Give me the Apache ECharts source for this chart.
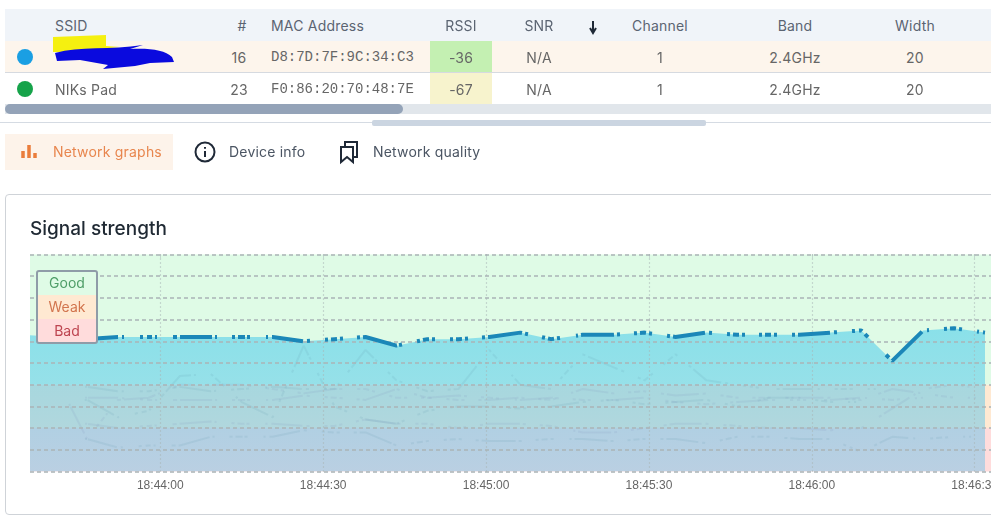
<!DOCTYPE html>
<html><head><meta charset="utf-8">
<script src="https://cdn.jsdelivr.net/npm/echarts@6/dist/echarts.min.js"></script>
<style>
html,body{margin:0;padding:0;background:#fff;width:991px;height:526px;overflow:hidden;font-family:Inter,"Noto Sans",sans-serif;color:#4b5563}
.a{position:absolute;white-space:nowrap}
.t{position:absolute;white-space:nowrap;transform:translate(-50%,-50%);font-size:14px;letter-spacing:.2px}
.l{position:absolute;white-space:nowrap;transform:translateY(-50%);font-size:14px;letter-spacing:.2px}
#chart{position:absolute;left:0;top:0;width:991px;height:526px}
</style></head><body>
<div class="a" style="left:5px;top:194px;width:1000px;height:319px;border:1px solid #cfd3d8;border-radius:4px"></div>
<div id="chart"></div>
<div id="chrome"></div>
<script>
const sampleTimes=['18:43:35.1','18:43:40.8','18:43:46.5','18:43:52.2','18:43:57.9','18:44:03.6','18:44:09.3','18:44:15.0','18:44:20.7','18:44:26.4','18:44:32.1','18:44:37.8','18:44:43.5','18:44:49.2','18:44:54.9','18:45:00.6','18:45:06.3','18:45:12.0','18:45:17.8','18:45:23.5','18:45:29.2','18:45:34.9','18:45:40.6','18:45:46.3','18:45:52.0','18:45:57.7','18:46:03.4','18:46:09.1','18:46:14.8','18:46:20.5','18:46:26.2','18:46:31.9'];
const signalValues=[-37,-38,-39,-38,-38,-38,-38,-38,-38,-40,-39,-38,-42,-39,-39,-38,-36,-39,-37,-37,-36,-38,-36,-37,-37,-37,-36,-35,-49,-35,-34,-36];
const ghostA=[-62,-61,-61,-63,-63,-61,-63,-62,-61,-62,-62,-44,-58,-63,-62,-44,-60,-62,-46,-52,-58,-46,-58,-60,-62,-62,-62,-62,-62,-63,-62,-62];
const ghostB=[-66,-66,-66,-66,-67,-67,-67,-67,-67,-65,-66,-67,-62,-66,-67,-67,-66,-67,-62,-64,-63,-65,-64,-66,-66,-66,-66,-67,-62,-64,-66,-66];
const ghostC=[-70,-68,-67,-75,-72,-56,-55,-68,-75,-42,-70,-76,-78,-72,-70,-70,-71,-70,-68,-67,-69,-68,-67,-70,-66,-66,-68,-68,-72,-60,-68,-70];
const ghostD=[-78,-78,-78,-80,-79,-78,-77,-78,-78,-79,-79,-76,-78,-78,-80,-78,-78,-79,-82,-82,-80,-78,-78,-79,-80,-80,-81,-80,-71,-62,-60,-62];
const ghostE=[-85,-86,-85,-89,-88,-88,-84,-84,-84,-81,-82,-82,-88,-86,-85,-86,-86,-85,-85,-86,-85,-85,-87,-84,-84,-85,-85,-91,-84,-85,-84,-84];
const ghostLift=[-58,-57,-85,-67,-66,-60,-60,-60,-62,-64,-62,-62,-66,-66,-65,-66,-67,-66,-67,-67,-66,-68,-69,-68,-67,-67,-67,-66,-67,-66,-65,-65];
const tickTimes=['18:44:00','18:44:30','18:45:00','18:45:30','18:46:00','18:46:30'];
const zoneNames=['Good','Weak','Bad'];
const zoneLimits=[0,-60,-80,-100];
const tableHeaders=['SSID','#','MAC Address','RSSI','SNR','Channel','Band','Width'];
const tableRows=[['','16','D8:7D:7F:9C:34:C3','-36','N/A','1','2.4GHz','20'],['NIKs Pad','23','F0:86:20:70:48:7E','-67','N/A','1','2.4GHz','20']];
const tabNames=['Network graphs','Device info','Network quality'];

const dashSpans=[[85,87],[88,118],[122,124],[140,143],[147,152],[155,157],[173,177],[180,212],[215,217],[232,235],[238,245],[247,250],[266,268],[272,303],[307,310],[325,328],[331,337],[340,343],[357,360],[363,397],[399,402],[417,420],[423,429],[432,435],[450,453],[456,462],[465,468],[482,485],[488,522],[525,528],[542,545],[548,554],[557,560],[576,578],[581,614],[617,620],[634,637],[640,646],[649,652],[667,670],[673,705],[709,712],[727,730],[733,739],[742,745],[759,762],[765,771],[774,777],[792,795],[798,830],[834,837],[852,855],[859,862],[865,868],[886,889],[892,922],[927,929],[944,947],[950,956],[959,962],[977,979],[983,985]];

const c=document.getElementById('chrome');
function box(x,y,w,h,bg,extra){const d=document.createElement('div');d.className='a';d.style.cssText+=`left:${x}px;top:${y}px;width:${w}px;height:${h}px;background:${bg};${extra||''}`;c.appendChild(d);return d}
function txt(cls,x,y,s,extra){const d=document.createElement('div');d.className=cls;d.textContent=s;d.style.cssText+=`left:${x}px;top:${y}px;${extra||''}`;c.appendChild(d)}
box(5,9,986,32,'#f0f4f9');box(5,41,986,31,'#fdf5ec');box(5,72,986,1,'#d6dae0');
box(430,41,62,31,'#c4f0b2');box(430,73,62,31,'#f7f3cd');
box(5,104,986,10,'#e1e6eb');box(5,104,398,10,'#94a3b8','border-radius:5px');
box(0,122,991,1,'#d5dbe3');box(372,120,334,6,'#cbd5e1','border-radius:2px');
box(5,134,168,36,'#fdf3ea');
const hx=[[55,'l'],[242,'t'],[271,'l'],[461,'t'],[539,'t'],[660,'t'],[795,'t'],[915,'t']];
tableHeaders.forEach((h,i)=>txt(hx[i][1],hx[i][0],25,h,'color:#5b6472'));
const cx=[[55,'l'],[239,'t'],[271,'l'],[461,'t'],[539,'t'],[660,'t'],[795,'t'],[915,'t']];
tableRows.forEach((r,ri)=>r.forEach((v,i)=>{if(v)txt(cx[i][1],cx[i][0],57+ri*32,v,i==2?'font-family:"Liberation Mono",monospace;letter-spacing:0;color:#666':'color:#666')}));
txt('l',53,151,tabNames[0],'color:#e8864e');
txt('l',229,151,tabNames[1],'color:#4b5563');
txt('l',373,151,tabNames[2],'color:#4b5563');
const svg=document.createElementNS('http://www.w3.org/2000/svg','svg');
svg.setAttribute('width',991);svg.setAttribute('height',200);svg.style.cssText='position:absolute;left:0;top:0';
svg.innerHTML=`
<path d="M53 37 L106 35 L106 46 L120 47 L70 52 L53 52Z" fill="#f5f010"/>
<path d="M55 53 C80 46 110 50 143 45 L130 49 C150 48 165 50 172 57 L174 62 L150 63 L135 66 L103 69 L108 65 L80 60 L57 61Z" fill="#0a0ade"/>
<circle cx="25" cy="57" r="8" fill="#1a9fe3"/><circle cx="25" cy="89" r="8" fill="#16a34a"/>
<path d="M593 21V31M590 28L593 33L596 28" stroke="#1f2937" stroke-width="2" fill="none"/>
<path d="M23 151v7M29 145v13M35 153v5" stroke="#ea7d3c" stroke-width="3.5" fill="none"/>
<circle cx="205" cy="152" r="9.5" stroke="#1f2937" stroke-width="2" fill="none"/><path d="M205 151v6M205 147v1.8" stroke="#1f2937" stroke-width="2"/>
<path d="M341 147H353V162L347 157L341 162ZM345 147V142H357V157H353" stroke="#1f2937" stroke-width="2" fill="none"/>`;
c.appendChild(svg);

const toTime=t=>new Date('2024-01-01T'+t).getTime();
const pts=a=>sampleTimes.map((t,i)=>[toTime(t),a[i]]);
function dashFor(lenAt){const out=[];let last=0;dashSpans.forEach(([s,e],i)=>{const a=lenAt(s),b=lenAt(e);if(i===0){out.push(0,a)}else out.push(a-last);out.push(b-a);last=b});out.push(3000);return out}
const plainDash=dashFor(x=>x-25);
const ghosts=[ghostA,ghostB,ghostC,ghostD,ghostE,ghostLift].map((g,i)=>({type:'line',data:pts(g),symbol:'none',silent:true,z:3,
 lineStyle:{width:2,color:i%2?'#7c8db8':'#5a8fa8',opacity:.13,type:plainDash}}));
const zoneColors=['#dffbe6','#ffe9d2','#ffdcdc'];
const tickValues=tickTimes.map(toTime);
const pad=n=>String(n).padStart(2,'0');
const chart=echarts.init(document.getElementById('chart'),null,{renderer:'canvas'});
chart.setOption({animation:false,backgroundColor:'transparent',
 title:{text:'Signal strength',left:30,top:220,padding:0,textStyle:{fontFamily:'Inter',fontSize:19,fontWeight:500,color:'#1f2933'}},
 grid:{left:30,right:0,top:254.5,height:217,outerBoundsMode:'none'},
 xAxis:{type:'value',min:toTime('18:43:36'),max:toTime('18:46:33'),z:5,
  axisLine:{show:false},axisTick:{show:true,customValues:tickValues,length:4,lineStyle:{color:'#aab4b8',type:'dotted'}},
  axisLabel:{customValues:tickValues,formatter:v=>{const d=new Date(v);return pad(d.getHours())+':'+pad(d.getMinutes())+':'+pad(d.getSeconds())},color:'#666',fontSize:12,fontFamily:'Liberation Sans',margin:8,hideOverlap:false},
  splitLine:{show:true,lineStyle:{color:'#a8b4b4',type:[1,3],width:1.2}}},
 yAxis:{type:'value',min:-100,max:0,interval:10,z:5,axisLine:{show:false},axisTick:{show:false},axisLabel:{show:false},
  splitLine:{show:true,showMinLine:true,showMaxLine:true,lineStyle:{color:'#aab4b6',type:[4,3],width:1.5}}},
 series:[
  {type:'line',data:[],z:1,silent:true,markArea:{silent:true,data:zoneNames.map((n,i)=>[{yAxis:zoneLimits[i],itemStyle:{color:zoneColors[i],opacity:1}},{yAxis:zoneLimits[i+1]}])}},
  {type:'line',name:'area',data:pts(signalValues),symbol:'none',z:3,silent:true,lineStyle:{width:0},
   areaStyle:{origin:'start',opacity:1,color:{type:'linear',x:0,y:0,x2:0,y2:1,colorStops:[{offset:0,color:'rgba(60,200,236,.52)'},{offset:1,color:'rgba(90,190,235,.42)'}]}}},
  ...ghosts,
  {type:'line',name:'Signal',data:pts(signalValues),symbol:'none',z:6,silent:true,lineStyle:{width:4,color:'#1b87b8',type:plainDash,cap:'butt'}}
 ],
 graphic:{elements:[
  {type:'rect',z:20,shape:{x:37,y:271,width:60,height:24},style:{fill:'#dffbe6'}},
  {type:'rect',z:20,shape:{x:37,y:295,width:60,height:24},style:{fill:'#ffe9d2'}},
  {type:'rect',z:20,shape:{x:37,y:319,width:60,height:24},style:{fill:'#ffdcdc'}},
  {type:'rect',z:21,shape:{x:37,y:271,width:60,height:72,r:2},style:{fill:'transparent',stroke:'#8f9ca8',lineWidth:2}},
  ...zoneNames.map((n,i)=>({type:'text',z:22,x:67,y:284+i*24,style:{text:n,fill:['#4f9e68','#d2754e','#bd4450'][i],font:'14px Inter',align:'center',verticalAlign:'middle'}}))
 ]}
});
const px=pts(signalValues).map(p=>chart.convertToPixel({xAxisIndex:0,yAxisIndex:0},p));
function lenAt(x){let L=0;for(let i=1;i<px.length;i++){const [a,b]=px[i-1],[u,v]=px[i];const seg=Math.hypot(u-a,v-b);if(x<=u){return L+seg*Math.max(0,(x-a))/(u-a)}L+=seg}return L}
chart.setOption({series:[{},{},{},{},{},{},{},{},{lineStyle:{type:dashFor(lenAt)}}]});
</script></body></html>
